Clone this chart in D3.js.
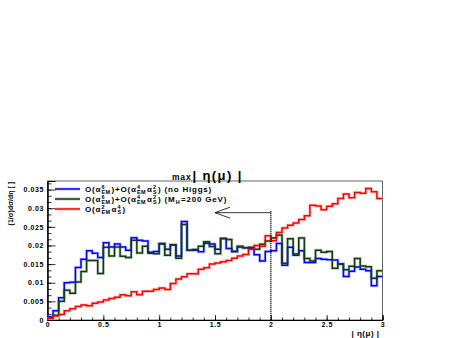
<!DOCTYPE html>
<html>
<head>
<meta charset="utf-8">
<script src="https://cdn.jsdelivr.net/npm/d3@7"></script>
<style>
  body { margin: 0; background: #fff; }
  svg text { font-family: "Liberation Sans", Arial, sans-serif; font-weight: bold; fill: #000; }
</style>
</head>
<body>
<svg id="chart" width="452" height="338"></svg>
<script>
// Histogram binning: 60 bins of 0.05 from 0 to 3
const binWidth = 0.05;

// O(aEM^6)+O(aEM^4 as^2), no Higgs (blue)
const noHiggs = [
  0.0009, 0.0025, 0.0060, 0.0100, 0.0101, 0.0141, 0.0163, 0.0186, 0.0179, 0.0168,
  0.0207, 0.0196, 0.0204, 0.0196, 0.0187, 0.0221, 0.0214, 0.0212, 0.0182, 0.0184,
  0.0205, 0.0190, 0.0202, 0.0172, 0.0264, 0.0187, 0.0187, 0.0183, 0.0206, 0.0204,
  0.0190, 0.0219, 0.0192, 0.0184, 0.0196, 0.0194, 0.0192, 0.0175, 0.0158, 0.0184,
  0.0186, 0.0205, 0.0147, 0.0195, 0.0174, 0.0186, 0.0154, 0.0154, 0.0165, 0.0163,
  0.0162, 0.0161, 0.0150, 0.0117, 0.0131, 0.0142, 0.0136, 0.0132, 0.0092, 0.0117
];

// O(aEM^6)+O(aEM^4 as^2), MH = 200 GeV (dark green)
const higgs200 = [
  0.0005, 0.0013, 0.0050, 0.0080, 0.0072, 0.0102, 0.0130, 0.0160, 0.0160, 0.0125,
  0.0195, 0.0172, 0.0196, 0.0171, 0.0168, 0.0214, 0.0180, 0.0198, 0.0179, 0.0178,
  0.0204, 0.0174, 0.0201, 0.0166, 0.0256, 0.0187, 0.0189, 0.0198, 0.0210, 0.0197,
  0.0178, 0.0219, 0.0216, 0.0184, 0.0198, 0.0194, 0.0195, 0.0190, 0.0203, 0.0212,
  0.0220, 0.0228, 0.0152, 0.0218, 0.0177, 0.0220, 0.0165, 0.0158, 0.0187, 0.0182,
  0.0184, 0.0139, 0.0150, 0.0135, 0.0144, 0.0165, 0.0145, 0.0143, 0.0112, 0.0132
];

// O(aEM^2 as^4) (red)
const qcdBkg = [
  0.0004, 0.0011, 0.0015, 0.0025, 0.0030, 0.0036, 0.0040, 0.0038, 0.0045, 0.0048,
  0.0054, 0.0058, 0.0061, 0.0068, 0.0065, 0.0076, 0.0068, 0.0077, 0.0077, 0.0082,
  0.0086, 0.0082, 0.0098, 0.0110, 0.0116, 0.0124, 0.0124, 0.0136, 0.0140, 0.0150,
  0.0153, 0.0156, 0.0160, 0.0166, 0.0172, 0.0176, 0.0190, 0.0200, 0.0198, 0.0226,
  0.0213, 0.0235, 0.0247, 0.0254, 0.0260, 0.0270, 0.0280, 0.0308, 0.0306, 0.0296,
  0.0305, 0.0312, 0.0326, 0.0338, 0.0328, 0.0342, 0.0340, 0.0353, 0.0344, 0.0326
];

// Tick values
const xTicks = [0, 0.5, 1, 1.5, 2, 2.5, 3];
const yTicks = [0, 0.005, 0.01, 0.015, 0.02, 0.025, 0.03, 0.035];

// Cut annotation: |eta| < 2
const cutValue = 2.0;
const arrowEnd = 1.5;
const arrowLevel = 0.0288;
const cutLineTop = 0.0292;

const svg = d3.select("#chart");
const margin = { left: 47.5, right: 69.5, top: 181, bottom: 18 };
const width = 452, height = 338;

const x = d3.scaleLinear().domain([0, 3]).range([margin.left, width - margin.right]);
const y = d3.scaleLinear().domain([0, 0.0373]).range([height - margin.bottom, margin.top]);

// Frame
svg.append("rect")
  .attr("x", x(0)).attr("y", y(0.0373))
  .attr("width", x(3) - x(0)).attr("height", y(0) - y(0.0373))
  .attr("fill", "none").attr("stroke", "#666").attr("stroke-width", 1);

// Minor ticks
const minorY = svg.append("g").attr("transform", `translate(${x(0)},0)`)
  .call(d3.axisLeft(y).tickValues(d3.range(0, 0.0373, 0.005 / 3)).tickSize(-4).tickFormat(""));
const minorX = svg.append("g").attr("transform", `translate(0,${y(0)})`)
  .call(d3.axisBottom(x).tickValues(d3.range(0, 3.001, 0.1)).tickSize(-2.5).tickFormat(""));

// Major axes
const yAxis = svg.append("g").attr("transform", `translate(${x(0)},0)`)
  .call(d3.axisLeft(y).tickValues(yTicks).tickSize(-8).tickPadding(3.5).tickFormat(d3.format("")));
const xAxis = svg.append("g").attr("transform", `translate(0,${y(0)})`)
  .call(d3.axisBottom(x).tickValues(xTicks).tickSize(-5).tickPadding(2.5).tickFormat(d3.format("")));

[minorY, minorX, yAxis, xAxis].forEach(g => {
  g.selectAll("path").attr("stroke", "#000").attr("stroke-width", 1);
  g.selectAll("line").attr("stroke", "#000").attr("stroke-width", 0.8);
});
yAxis.selectAll("text").attr("font-size", 7).attr("letter-spacing", 0.6);
xAxis.selectAll("text").attr("font-size", 7).attr("letter-spacing", 0.6);

// Histogram step lines
function stepPoints(values) {
  const pts = values.map((v, i) => [i * binWidth, v]);
  pts.push([values.length * binWidth, values[values.length - 1]]);
  return pts;
}
const line = d3.line().x(d => x(d[0])).y(d => y(d[1])).curve(d3.curveStepAfter);

const series = [
  { values: noHiggs, color: "#0000ff", halo: "#9a9aff" },
  { values: higgs200, color: "#123b12", halo: "#8fb08f" },
  { values: qcdBkg, color: "#ff0000", halo: "#ff9a9a" }
];

series.forEach(s => {
  svg.append("path").attr("d", line(stepPoints(s.values)))
    .attr("fill", "none").attr("stroke", s.halo).attr("stroke-width", 3).attr("opacity", 0.6);
});
series.forEach(s => {
  svg.append("path").attr("d", line(stepPoints(s.values)))
    .attr("fill", "none").attr("stroke", s.color).attr("stroke-width", 1.5);
});

// Cut line and arrow
svg.append("line")
  .attr("x1", x(cutValue)).attr("x2", x(cutValue))
  .attr("y1", y(cutLineTop)).attr("y2", y(0))
  .attr("stroke", "#000").attr("stroke-width", 1.5).attr("stroke-dasharray", "1,1");
svg.append("line")
  .attr("x1", x(cutValue)).attr("x2", x(arrowEnd))
  .attr("y1", y(arrowLevel)).attr("y2", y(arrowLevel))
  .attr("stroke", "#000").attr("stroke-width", 0.8);
svg.append("path")
  .attr("d", `M${x(arrowEnd) + 15},${y(arrowLevel) - 5.5}L${x(arrowEnd)},${y(arrowLevel)}L${x(arrowEnd) + 15},${y(arrowLevel) + 5.5}`)
  .attr("fill", "none").attr("stroke", "#000").attr("stroke-width", 0.8);

// Rich text with stacked super/subscripts
function richText(px, py, parts, size, spacing) {
  let cx = px;
  parts.forEach(p => {
    if (typeof p === "string") {
      const t = svg.append("text").attr("x", cx).attr("y", py).attr("font-size", size)
        .attr("letter-spacing", spacing).text(p);
      cx += t.node().getComputedTextLength() + 0.2;
    } else {
      const small = size * 0.68;
      const sup = svg.append("text").attr("x", cx).attr("y", py - size * 0.4)
        .attr("font-size", small).attr("letter-spacing", spacing * 0.6).text(p[0]);
      const sub = svg.append("text").attr("x", cx).attr("y", py + size * 0.22)
        .attr("font-size", small).attr("letter-spacing", spacing * 0.6).text(p[1]);
      cx += Math.max(sup.node().getComputedTextLength(), sub.node().getComputedTextLength()) + 1;
    }
  });
}

// Legend
const legendRows = [
  { color: "#0000ff", halo: "#9a9aff", parts: ["O(α", ["6", "EM"], ")+O(α", ["4", "EM"], " α", ["2", "S"], ") (no Higgs)"] },
  { color: "#123b12", halo: "#8fb08f", parts: ["O(α", ["6", "EM"], ")+O(α", ["4", "EM"], " α", ["2", "S"], ") (M", ["", "H"], "=200 GeV)"] },
  { color: "#ff0000", halo: "#ff9a9a", parts: ["O(α", ["2", "EM"], " α", ["4", "S"], ")"] }
];
legendRows.forEach((r, i) => {
  const ly = 189 + i * 10;
  svg.append("line").attr("x1", 55).attr("x2", 80).attr("y1", ly).attr("y2", ly)
    .attr("stroke", r.halo).attr("stroke-width", 3).attr("opacity", 0.6);
  svg.append("line").attr("x1", 55).attr("x2", 80).attr("y1", ly).attr("y2", ly)
    .attr("stroke", r.color).attr("stroke-width", 1.5);
  richText(85, ly + 2.8, r.parts, 8, 0.8);
});

// Title
const title = svg.append("text").attr("x", 172).attr("y", 179.5);
title.append("tspan").attr("font-size", 8.5).attr("letter-spacing", 0.8).text("max");
title.append("tspan").attr("font-size", 13).attr("dx", 1).attr("letter-spacing", 1.4).text("| η(μ) |");

// Axis titles
svg.append("text")
  .attr("transform", `translate(13,182) rotate(-90)`)
  .attr("text-anchor", "end").attr("font-size", 7).attr("font-weight", "normal")
  .text("(1/σ)dσ/dη [ ]");
svg.append("text")
  .attr("x", x(3) - 3).attr("y", 336).attr("text-anchor", "end")
  .attr("font-size", 8).attr("font-weight", "normal").attr("letter-spacing", 0.5)
  .text("| η(μ) |");
</script>
</body>
</html>
